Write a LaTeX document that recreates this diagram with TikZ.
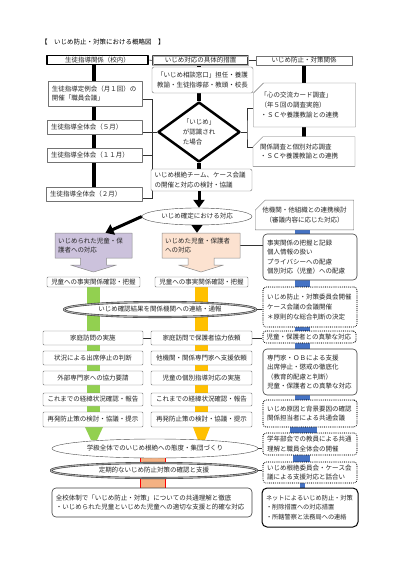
\documentclass[tikz,border=0pt]{standalone}
\usepackage{fontspec}
\setmainfont{Noto Sans CJK JP}
\XeTeXlinebreaklocale "ja"
\usetikzlibrary{shapes.geometric,shapes.misc,arrows.meta,backgrounds,positioning}

\definecolor{colHigai}{RGB}{204,194,220}
\definecolor{colKagai}{RGB}{252,226,208}
\definecolor{colG}{RGB}{146,208,80}
\definecolor{colO}{RGB}{255,192,0}
\definecolor{colB}{RGB}{68,114,196}
\definecolor{colR}{RGB}{244,177,131}

\begin{document}
\begin{tikzpicture}[
  x=1pt, y=-1pt, % pixel units, y downward
  font=\fontsize{6.5}{9.6}\selectfont,
  line join=round,
  box/.style={draw=black!55, fill=white, rounded corners=1pt, inner sep=2pt, text=black!85, align=center},
  rbox/.style={box, draw=black!75, line width=0.6pt, rounded corners=4pt, align=left},
  cbox/.style={box, sharp corners, chamfered rectangle, chamfered rectangle corners=north west,
    chamfered rectangle xsep=5pt, chamfered rectangle ysep=5pt, align=left},
  dbox/.style={box, draw=black, line width=1.1pt, dash pattern=on 0pt off 1.9pt, line cap=round,
    rounded corners=3pt, align=left},
  oval/.style={ellipse, draw=black!70, fill=white, inner sep=0pt, text=black!85},
  dbl/.style={draw=black!75, line width=0.6pt, double=black!30, double distance=0.9pt},
  link/.style={draw=black!80, line width=0.6pt},
  heavy/.style={line width=3.5pt, black},
  bigarrow/.style={line width=3pt, black, -{Triangle[width=11pt,length=8pt]}}
]
  \useasboundingbox (0,0) rectangle (400,566);

  % ---- title ----
  \node (title) at (103,42) {【　いじめ防止・対策における概略図　】};

  % ---- top row ----
  \node[box, sharp corners, draw=black, line width=1.2pt, minimum width=101pt, minimum height=8.5pt, inner sep=0pt] (shido) at (97.5,60) {生徒指導関係（校内）};
  \node[box, sharp corners, dbl, minimum width=95pt, minimum height=9pt, inner sep=0pt] (sochi) at (200.5,60.5) {いじめ対応の具体的措置};
  \node[box, sharp corners, minimum width=96pt, minimum height=9pt, inner sep=0pt] (boshi) at (304,60.5) {いじめ防止・対策関係};
  \node[box, rounded corners=2pt, minimum width=101pt, minimum height=26pt] (madoguchi) at (202.5,80) {「いじめ相談窓口」担任・養護\\教諭・生徒指導部・教頭・校長};

  % ---- school side (left) ----
  \node[box, sharp corners, minimum width=94pt, minimum height=25pt, text width=86pt, align=left] (teirei) at (95,93.5) {生徒指導定例会（月１回）の\\開催「職員会議」};
  \node[box, sharp corners, minimum width=95pt, minimum height=13.5pt, text width=87pt, align=left] (zen5) at (94.5,127) {生徒指導全体会（５月）};
  \node[box, sharp corners, minimum width=95pt, minimum height=13.5pt, text width=87pt, align=left] (zen11) at (94.5,155) {生徒指導全体会（１１月）};
  \node[box, sharp corners, minimum width=96pt, minimum height=13.5pt, text width=88pt, align=left] (zen2) at (94,194) {生徒指導全体会（２月）};

  % ---- decision ----
  \node[diamond, draw=black, line width=2.5pt, fill=white, minimum width=82pt, minimum height=60pt, inner sep=0pt, aspect=1.37, align=left, text=black!85] (hishi) at (199,132) {「いじめ」\\が認識され\\た場合};

  % ---- prevention side (right) ----
  \node[cbox, minimum width=95pt, minimum height=44pt, text width=88pt] (kokoro) at (304.5,105) {「心の交流カード調査」\\（年５回の調査実施）\\・ＳＣや養護教諭との連携};
  \node[cbox, minimum width=96pt, minimum height=28pt, text width=88pt] (kankei) at (304,151.5) {関係調査と個別対応調査\\・ＳＣや養護教諭との連携};
  \node[box, rounded corners=2pt, minimum width=101pt, minimum height=22pt, text width=94pt, align=left] (team) at (201.5,180) {いじめ根絶チーム、ケース会議\\の開催と対応の検討・協議};
  \node[oval, minimum width=110pt, minimum height=17pt] (kakutei) at (197,216.5) {いじめ確定における対応};
  \node[cbox, minimum width=95pt, minimum height=26pt, align=center] (takikan) at (304.5,215) {他機関・他組織との連携検討\\（審議内容に応じた対応）};

  % ---- callout boxes ----
  \begin{scope}[shift={(93.5,245.5)}]
    \filldraw[fill=colHigai, draw=black!45, line width=0.5pt] (-38.5,-12.5) -- (38.5,-12.5) -- (38.5,12.5) -- (13,12.5) -- (13,19.5) -- (23,19.5) -- (0,26.5) -- (-23,19.5) -- (-13,19.5) -- (-13,12.5) -- (-38.5,12.5) -- cycle;
  \end{scope}
  \node[minimum width=77pt, minimum height=25pt, text width=71pt, align=left, inner sep=0pt, text=black!85] (higai) at (93.5,245.5) {いじめられた児童・保\\護者への対応};
  \begin{scope}[shift={(201,245.5)}]
    \filldraw[fill=colKagai, draw=black!45, line width=0.5pt] (-39,-12.5) -- (39,-12.5) -- (39,12.5) -- (13,12.5) -- (13,19.5) -- (22.5,19.5) -- (0,26.5) -- (-22.5,19.5) -- (-13,19.5) -- (-13,12.5) -- (-39,12.5) -- cycle;
  \end{scope}
  \node[minimum width=78pt, minimum height=25pt, text width=72pt, align=left, inner sep=0pt, text=black!85] (kagai) at (201,245.5) {いじめた児童・保護者\\への対応};

  \node[rbox, minimum width=94pt, minimum height=46pt, text width=86pt] (jijitsu) at (310,257) {事実関係の把握と記録\\個人情報の扱い\\プライバシーへの配慮\\個別対応（児童）への配慮};

  % ---- two columns ----
  \node[box, minimum width=93pt, minimum height=10pt, inner sep=0pt] (kakuninL) at (93.5,282) {児童への事実関係確認・把握};
  \node[box, minimum width=93pt, minimum height=10pt, inner sep=0pt] (kakuninR) at (201.5,282) {児童への事実関係確認・把握};
  \node[dbox, minimum width=94pt, minimum height=40pt, text width=86pt] (iinkai) at (310,307) {いじめ防止・対策委員会開催\\ケース会議の会議開催\\＊原則的な総合判断の決定};
  \node[oval, dbl, minimum width=192pt, minimum height=15pt] (tsuho) at (160,309.5) {いじめ確認結果を関係機関への連絡・通報};

  \node[box, minimum width=100pt, minimum height=14pt] (homonL) at (93,338) {家庭訪問の実施};
  \node[box, minimum width=101pt, minimum height=14pt] (homonR) at (201.5,338) {家庭訪問で保護者協力依頼};
  \node[dbox, minimum width=93pt, minimum height=12pt, text width=86pt] (shinshi) at (309.5,337) {児童・保護者との真摯な対応};
  \node[box, minimum width=100pt, minimum height=14pt] (teishiL) at (93,358) {状況による出席停止の判断};
  \node[box, minimum width=101pt, minimum height=14pt] (shienR) at (201.5,358) {他機関・関係専門家へ支援依頼};
  \node[rbox, minimum width=94pt, minimum height=46pt, text width=86pt] (senmon) at (310,372) {専門家・ＯＢによる支援\\出席停止・懲戒の徹底化\\（教育的配慮と判断）\\児童・保護者との真摯な対応};
  \node[box, minimum width=100pt, minimum height=14pt] (gaibuL) at (93,378) {外部専門家への協力要請};
  \node[box, minimum width=101pt, minimum height=14pt] (kobetsuR) at (201.5,378) {児童の個別指導対応の実施};
  \node[box, minimum width=100pt, minimum height=13pt] (keiiL) at (93,399.5) {これまでの経緯状況確認・報告};
  \node[box, minimum width=101pt, minimum height=13pt] (keiiR) at (201.5,399.5) {これまでの経緯状況確認・報告};
  \node[dbox, minimum width=94pt, minimum height=27pt, text width=86pt] (genin) at (310,413.5) {いじめ原因と背景要因の確認\\関係担当者による共通会議};
  \node[box, minimum width=100pt, minimum height=15pt] (saihatsuL) at (93,419.5) {再発防止策の検討・協議・提示};
  \node[box, minimum width=101pt, minimum height=15pt] (saihatsuR) at (201.5,419.5) {再発防止策の検討・協議・提示};

  % ---- bottom ----
  \node[oval, minimum width=206pt, minimum height=19pt] (gakkyu) at (155,448.5) {学級全体でのいじめ根絶への態度・集団づくり};
  \node[dbox, minimum width=94pt, minimum height=22pt, text width=86pt] (gakunen) at (310,444) {学年部会での教員による共通\\理解と職員全体会の開催};
  \node[oval, dbl, minimum width=206pt, minimum height=15pt] (teiki) at (154,470.5) {定期的ないじめ防止対策の確認と支援};
  \node[dbox, minimum width=94pt, minimum height=21pt, text width=86pt] (konzetsu) at (310,472.5) {いじめ根絶委員会・ケース会\\議による支援対応と話合い};
  \node[rbox, minimum width=200pt, minimum height=29pt, text width=192pt] (zenko) at (152,502.5) {全校体制で「いじめ防止・対策」についての共通理解と徹底\\・いじめられた児童といじめた児童への適切な支援と的確な対応};
  \node[rbox, draw=black, line width=1pt, rounded corners=5pt, minimum width=96pt, minimum height=39pt, text width=88pt, font=\fontsize{6.2}{9.6}\selectfont] (net) at (310,507.5) {ネットによるいじめ防止・対策\\・削除措置への対応措置\\・所轄警察と法務局への連絡};

  % ---- arrows ----
  \draw[bigarrow] (hishi.south |- team.south) -- (hishi.south |- kakutei.north);
  \draw[bigarrow] (kakutei.west) -- ([xshift=12pt]higai.north);
  \draw[bigarrow] (kakutei.south) -- (kakutei.south |- kagai.north);

  \begin{scope}[on background layer]
    \fill[white] (0,0) rectangle (400,566);
    % colour bars
    \fill[colG] (87,287) rectangle (100,428);
    \fill[colG] (85,427) -- (103,427) -- (97,440) -- (91,440) -- cycle;
    \fill[colO] (195,287) rectangle (208,428);
    \fill[colO] (193,427) -- (210,427) -- (205,440) -- (198,440) -- cycle;
    \foreach \ya/\yb in {228/235, 280/287, 326/331, 343/349, 395/400} {
      \fill[colB] (295,\ya) rectangle (310,\yb);
    }
    \fill[colB] (290,427) rectangle (317,433);
    \fill[colB] (293,455) rectangle (310,462);
    \fill[colB] (300,483) rectangle (305,488);
    \filldraw[fill=colR, draw=red, line width=0.6pt] (140,456) rectangle (165,464);
    \filldraw[fill=colR, draw=red, line width=0.6pt] (140,476) rectangle (165,489);

    % heavy lines
    \draw[heavy] (zen2.north |- shido.south) -- (zen2.north);
    \draw[heavy] (hishi.north |- sochi.south) -- (hishi.north);
    \draw[heavy] (boshi.south) -- (kankei.north -| boshi.south);
    \draw[heavy] (hishi.south) -- (hishi.south |- team.north);

    % thin links
    \draw[link] (shido.east) -- (sochi.west);
    \draw[link] (sochi.east) -- (boshi.west);
    \coordinate (lbus) at (152,99);
    \draw[link] (teirei.east |- lbus) -- (lbus) -- (lbus |- 0,198) -- ([yshift=-4pt]zen2.east);
    \draw[link] (zen11.east) -- (zen11.east -| lbus);
    \draw[link] (zen5.east |- hishi.west) -- (hishi.west);
    \coordinate (rbus) at (247,132);
    \draw[link] (hishi.east) -- (rbus);
    \draw[link] ([yshift=-3pt]kokoro.west) -| (rbus) |- ([yshift=4pt]kankei.west);
    \draw[link] (kagai.east) -- (kagai.east -| jijitsu.west);
    \draw[link] (tsuho.east) -- (tsuho.east -| iinkai.west);
    \draw[link] (homonL.east) -- (homonR.west);
    \draw[link] (homonR.east) -- (homonR.east -| shinshi.west);
    \draw[link] (gakkyu.east) -- (gakkyu.east -| gakunen.west);
    \draw[link] (teiki.east) -- (teiki.east -| konzetsu.west);
  \end{scope}
\end{tikzpicture}
\end{document}
